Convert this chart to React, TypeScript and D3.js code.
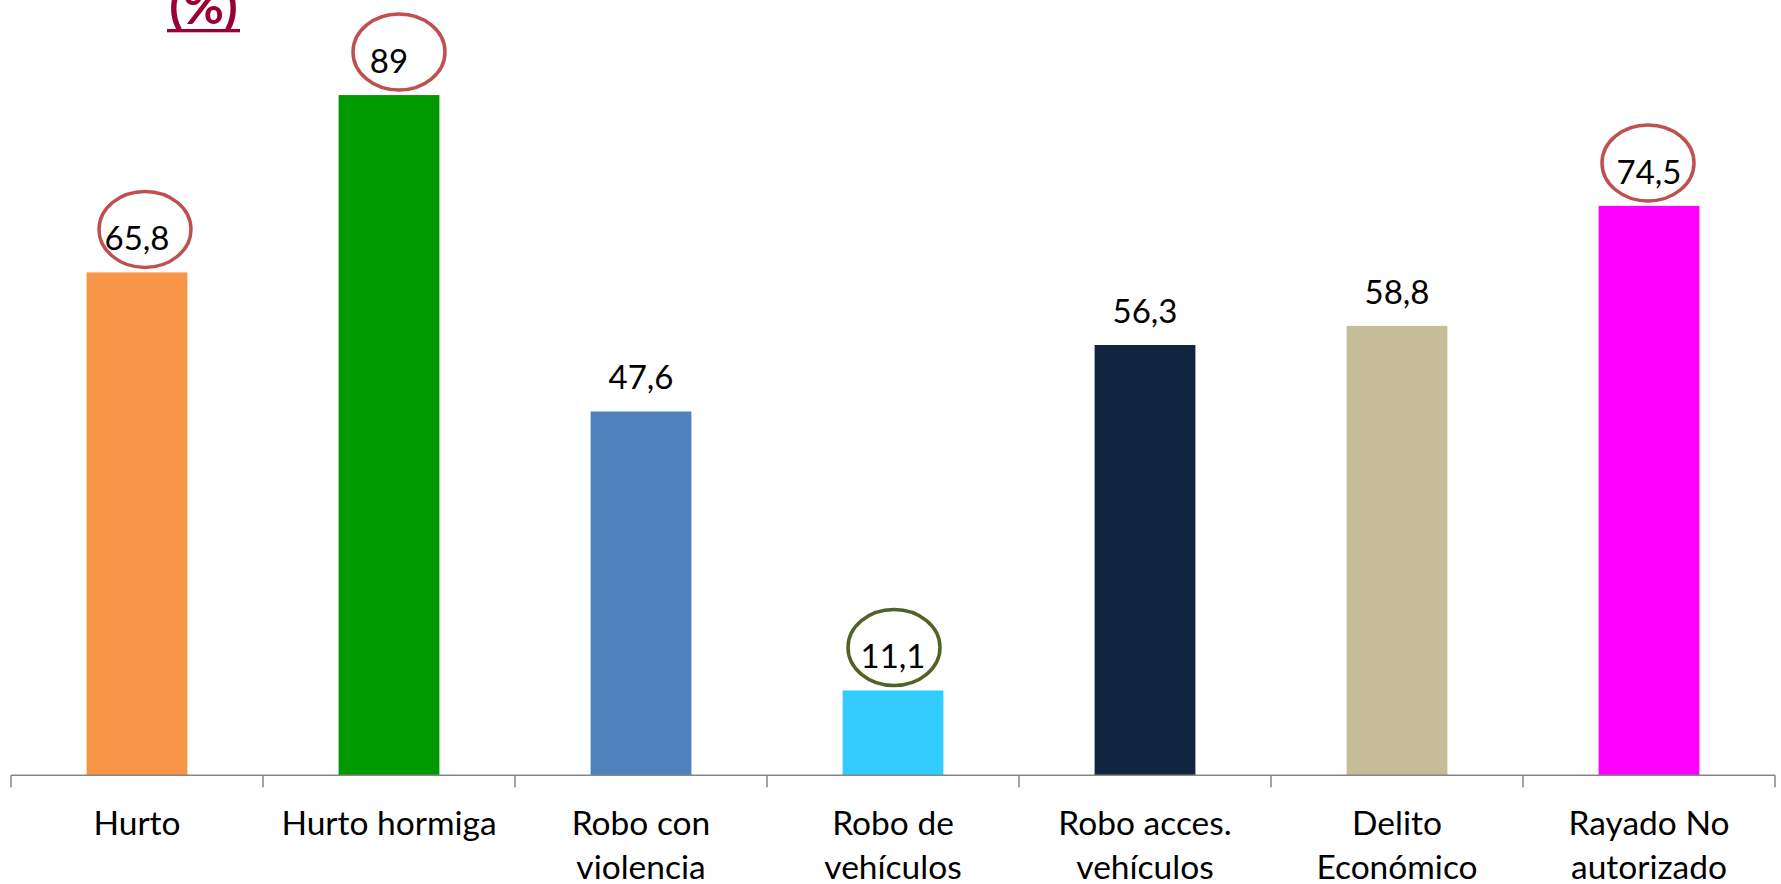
import React from "react";
import * as d3 from "d3";

const categories: string[][] = [
  ["Hurto"],
  ["Hurto hormiga"],
  ["Robo con", "violencia"],
  ["Robo de", "vehículos"],
  ["Robo acces.", "vehículos"],
  ["Delito", "Económico"],
  ["Rayado No", "autorizado"],
];
const values: number[] = [65.8, 89, 47.6, 11.1, 56.3, 58.8, 74.5];
const barColors: string[] = ["#F79646", "#009900", "#4F81BD", "#33CCFF", "#12253F", "#C4BD97", "#FF00FF"];
const highlighted: number[] = [0, 1, 3, 6];
const highlightColors: string[] = ["#C0504D", "#C0504D", "#4F6228", "#C0504D"];
const highlightNudge: number[] = [8, 10, 1, -1];
const yDomain: number[] = [0, 100];

const W = 1781;
const H = 884;
const FONT = "Lato, 'Open Sans', sans-serif";

export default function App() {
  const x = d3
    .scaleBand<number>()
    .domain(d3.range(categories.length))
    .range([11, 1775])
    .paddingInner(0.6)
    .paddingOuter(0.3);
  const y = d3.scaleLinear().domain(yDomain).range([775.3, 11]);
  const locale = d3.formatLocale({ decimal: ",", thousands: ".", grouping: [3], currency: ["", ""] });
  const fmt = locale.format(".1~f");
  const step = x.step();
  const [r0] = x.range();
  const tickXs = d3.range(categories.length + 1).map((i) => r0 + i * step);
  const base = y(0);

  return (
    <svg width={W} height={H} style={{ position: "absolute", left: 0, top: 0, background: "#fff" }} fontFamily={FONT}>
      <rect x={0} y={0} width={W} height={H} fill="#fff" />
      {/* title fragment */}
      <text x={203.5} y={24} textAnchor="middle" fontSize={50} fontWeight={700} fill="#990033">
        (%)
      </text>
      <rect x={167} y={29} width={73} height={3.3} fill="#990033" />

      {values.map((v, i) => (
        <rect key={"b" + i} x={x(i)!} y={y(v)} width={x.bandwidth()} height={base - y(v)} fill={barColors[i]} />
      ))}

      {/* axis */}
      <line x1={r0} x2={tickXs[tickXs.length - 1]} y1={base} y2={base} stroke="#868686" strokeWidth={1.5} />
      {tickXs.map((tx, i) => (
        <line key={"t" + i} x1={tx} x2={tx} y1={base} y2={base + 12} stroke="#868686" strokeWidth={1.5} />
      ))}

      {values.map((v, i) => (
        <text key={"v" + i} x={x(i)! + x.bandwidth() / 2} y={y(v) - 22} textAnchor="middle" fontSize={33} fill="#000">
          {fmt(v)}
        </text>
      ))}

      {highlighted.map((idx, k) => (
        <ellipse
          key={"e" + k}
          cx={x(idx)! + x.bandwidth() / 2 + highlightNudge[k]}
          cy={y(values[idx]) - 43}
          rx={46}
          ry={38}
          fill="none"
          stroke={highlightColors[k]}
          strokeWidth={3.5}
        />
      ))}

      {categories.map((lines, i) => (
        <text key={"c" + i} x={x(i)! + x.bandwidth() / 2} textAnchor="middle" fontSize={33.5} fill="#000">
          {lines.map((l, j) => (
            <tspan key={j} x={x(i)! + x.bandwidth() / 2} y={835 + j * 43.5}>
              {l}
            </tspan>
          ))}
        </text>
      ))}
    </svg>
  );
}
